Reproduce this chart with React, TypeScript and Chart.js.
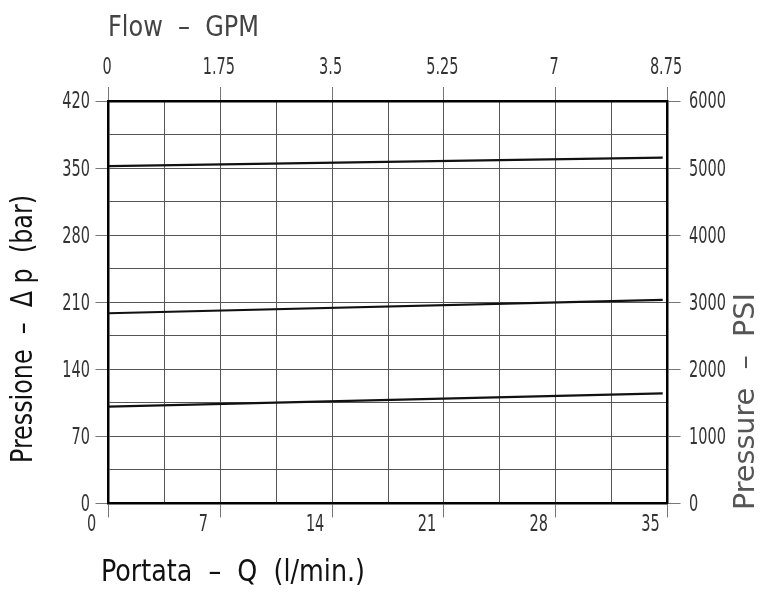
import React, { useEffect, useRef } from "react";
import { Chart, registerables } from "chart.js";

Chart.register(...registerables);

// ---- data ----
const flowLpm: number[] = [0, 34.7];
const curveHigh: number[] = [352, 361];
const curveMid: number[] = [198.5, 212.5];
const curveLow: number[] = [101, 115];

const bottomTickLabels: number[] = [0, 7, 14, 21, 28, 35];
const leftTickLabels: number[] = [0, 70, 140, 210, 280, 350, 420];
const topTickLabels: string[] = ["0", "1.75", "3.5", "5.25", "7", "8.75"];
const rightTickLabels: number[] = [0, 1000, 2000, 3000, 4000, 5000, 6000];

const titleTop = "Flow  –  GPM";
const titleBottom = "Portata  –  Q  (l/min.)";
const titleLeft = "Pressione  –  Δ p  (bar)";
const titleRight = "Pressure  –  PSI";

const FONT = '"DejaVu Sans Condensed", "DejaVu Sans", sans-serif';
const TICK_SX = 0.7;

const near = (arr: number[], v: number) => arr.some((a) => Math.abs(a - v) < 1e-6);

// draws text horizontally compressed (CAD-like narrow lettering)
function drawNarrow(
  ctx: CanvasRenderingContext2D,
  text: string,
  x: number,
  y: number,
  align: "left" | "center" | "right",
  sx: number,
  rotate = false
) {
  ctx.save();
  ctx.translate(x, y);
  if (rotate) ctx.rotate(-Math.PI / 2);
  ctx.scale(sx, 1);
  ctx.textAlign = align;
  ctx.textBaseline = "middle";
  ctx.fillText(text, 0, 0);
  ctx.restore();
}

function drawFit(
  ctx: CanvasRenderingContext2D,
  text: string,
  x: number,
  y: number,
  length: number,
  rotate = false
) {
  const w = ctx.measureText(text).width;
  drawNarrow(ctx, text, x, y, "left", length / w, rotate);
}

const labelsPlugin = {
  id: "cadLabels",
  afterDraw(chart: any) {
    const { ctx, scales } = chart;
    ctx.save();
    // tick labels
    ctx.fillStyle = "#333";
    ctx.font = `23px ${FONT}`;
    bottomTickLabels.forEach((v) => {
      drawNarrow(ctx, String(v), scales.x.getPixelForValue(v) - 17, 525, "center", TICK_SX);
    });
    topTickLabels.forEach((t) => {
      drawNarrow(ctx, t, scales.xTop.getPixelForValue(Number(t)) - 1.5, 68.5, "center", TICK_SX);
    });
    leftTickLabels.forEach((v) => {
      drawNarrow(ctx, String(v), 90, scales.y.getPixelForValue(v) + 1.5, "right", TICK_SX);
    });
    rightTickLabels.forEach((v) => {
      drawNarrow(ctx, String(v), 689, scales.yRight.getPixelForValue(v) + 1.5, "left", TICK_SX);
    });
    // axis titles
    ctx.fillStyle = "#444";
    ctx.font = `29px ${FONT}`;
    drawFit(ctx, titleTop, 108, 28, 151);
    ctx.fillStyle = "#111";
    ctx.font = `31px ${FONT}`;
    drawFit(ctx, titleBottom, 101, 573, 264);
    drawFit(ctx, titleLeft, 24, 463, 268, true);
    ctx.fillStyle = "#555";
    ctx.font = `28px ${FONT}`;
    drawFit(ctx, titleRight, 747, 510, 217, true);
    ctx.restore();
  },
};

export default function App() {
  const ref = useRef<HTMLCanvasElement | null>(null);

  useEffect(() => {
    if (!ref.current) return;
    const pts = (ys: number[]) => flowLpm.map((x, i) => ({ x, y: ys[i] }));
    const lineDs = (label: string, ys: number[]) => ({
      label,
      data: pts(ys),
      borderColor: "#111",
      borderWidth: 2.2,
      pointRadius: 0,
      fill: false,
      tension: 0,
      xAxisID: "x",
      yAxisID: "y",
    });
    const border = { display: true, color: "#000", width: 2.5 };

    const chart = new Chart(ref.current, {
      type: "line",
      data: {
        datasets: [lineDs("high", curveHigh), lineDs("mid", curveMid), lineDs("low", curveLow)],
      },
      plugins: [labelsPlugin],
      options: {
        animation: false,
        responsive: false,
        devicePixelRatio: 1,
        layout: { padding: 0 },
        plugins: { legend: { display: false }, tooltip: { enabled: false }, title: { display: false } },
        scales: {
          x: {
            type: "linear",
            position: "bottom",
            min: 0,
            max: 35,
            afterFit: (s: any) => { s.height = 88.5; },
            border,
            grid: {
              color: "#555",
              lineWidth: 1,
              tickLength: 14,
              tickColor: (c: any) => (near(bottomTickLabels, c.tick?.value) ? "#777" : "rgba(0,0,0,0)"),
            },
            ticks: { stepSize: 3.5, autoSkip: false, display: false },
          },
          xTop: {
            type: "linear",
            position: "top",
            min: 0,
            max: 8.75,
            afterFit: (s: any) => { s.height = 101; },
            border,
            grid: { drawOnChartArea: false, tickLength: 14, tickColor: "#777" },
            ticks: { stepSize: 1.75, autoSkip: false, display: false },
          },
          y: {
            type: "linear",
            position: "left",
            min: 0,
            max: 420,
            afterFit: (s: any) => { s.width = 108.5; },
            border,
            grid: {
              color: "#555",
              lineWidth: 1,
              tickLength: 13,
              tickColor: (c: any) => (near(leftTickLabels, c.tick?.value) ? "#777" : "rgba(0,0,0,0)"),
            },
            ticks: { stepSize: 35, autoSkip: false, display: false },
          },
          yRight: {
            type: "linear",
            position: "right",
            min: 0,
            max: 6000,
            afterFit: (s: any) => { s.width = 102.5; },
            border,
            grid: { drawOnChartArea: false, tickLength: 13, tickColor: "#777" },
            ticks: { stepSize: 1000, autoSkip: false, display: false },
          },
        },
      },
    } as any);
    return () => chart.destroy();
  }, []);

  return (
    <div style={{ position: "absolute", left: 0, top: 0, width: 770, height: 592, background: "#fff" }}>
      <canvas ref={ref} width={770} height={592} style={{ width: 770, height: 592, display: "block" }} />
    </div>
  );
}
